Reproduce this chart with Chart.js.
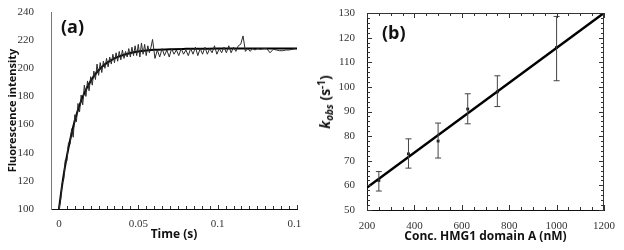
<!DOCTYPE html>
<html><head><meta charset="utf-8">
<script src="https://cdn.jsdelivr.net/npm/chart.js@4"></script>
<style>
html,body{margin:0;padding:0;background:#fff;width:624px;height:250px;overflow:hidden;}
#ca{position:absolute;left:0;top:0;}
#cb{position:absolute;left:312px;top:0;}
.lbl{position:absolute;font-family:'Open Sans',sans-serif;font-weight:bold;color:#111;white-space:nowrap;}
#ytb{left:325px;top:102px;transform:translate(-50%,-50%) rotate(-90deg);font-size:14px;line-height:16px;}
#ytb sub{font-size:10px;vertical-align:-3px;font-style:italic;}
#ytb sup{font-size:10px;vertical-align:5px;}
</style></head><body>
<canvas id="ca" width="302" height="250"></canvas>
<canvas id="cb" width="312" height="250"></canvas>
<div class="lbl" style="left:61px;top:17px;font-size:18px;line-height:18px;">(a)</div>
<div class="lbl" style="left:382px;top:23px;font-size:18px;line-height:18px;">(b)</div>
<div class="lbl" id="ytb"><i>k</i><sub>obs</sub> (s<sup>-1</sup>)</div>
<script>
// ---------- Panel (a): fluorescence trace ----------
const timeA = [0,0.001,0.002,0.003,0.004,0.005,0.006,0.007,0.008,0.009,
  0.010,0.011,0.012,0.013,0.014,0.015,0.016,0.017,0.018,0.019,
  0.020,0.021,0.022,0.023,0.024,0.025,0.026,0.027,0.028,0.029,
  0.030,0.031,0.032,0.033,0.034,0.035,0.036,0.037,0.038,0.039,
  0.040,0.041,0.042,0.043,0.044,0.045,0.046,0.047,0.048,0.049,
  0.050,0.051,0.052,0.053,0.054,0.055,0.056,0.057,0.058,0.059,
  0.0605,0.062,0.0635,0.065,0.0665,0.068,0.0695,0.071,0.0725,0.074,
  0.0755,0.077,0.0785,0.080,0.0815,0.083,0.0845,0.086,0.0875,0.089,
  0.0905,0.092,0.0935,0.095,0.0965,0.098,0.0995,0.101,0.1025,0.104,
  0.1055,0.107,0.1085,0.110,0.1115,0.113,0.1145,0.116,0.1175,0.119,
  0.1205,0.122,0.1235,0.125,0.127,0.129,0.131,0.133,0.135,0.137,
  0.139,0.141,0.143,0.145,0.147,0.149];
const fluorA = [101,106,118,121,135,134,147,146,157,151,
  167,162,175,169,181,174,188,180,191,184,
  194,188,198,192,203,195,204,197,205,200,
  207,201,208,203,210,204,211,205,212,206,
  213,207,212,208,214,208,215,209,216,209,
  217,208,218,210,217,209,216,211,215,220.5,
  207,213,208,214,209,213,208,214,210,213,
  209,214,210,213,209,214,210,215,209,214,
  210,215,210,214,211,216,210,214,211,215,
  211,216,211,215,212,216,217,223,212,214,
  212,214,213,214,213.5,214,214,211,213.5,213,
  212.5,212.5,213,213,213.5,214];
const fitTimeA = [0,0.0025,0.005,0.0075,0.01,0.0125,0.015,0.0175,0.02,0.0225,
  0.025,0.0275,0.03,0.0325,0.035,0.0375,0.04,0.045,0.05,0.055,
  0.06,0.07,0.08,0.09,0.1,0.125,0.15];
const fitFluorA = [100,120.7,137.6,151.4,162.8,172.1,179.7,185.9,191.0,195.2,
  198.6,201.4,203.7,205.5,207.1,208.3,209.3,210.9,211.9,212.6,
  213.1,213.6,213.8,213.9,214,214,214];
const xTicksA = [0,0.05,0.1,0.15];
const xTickLabelsA = ['0','0.05','0.1','0.15'];
const yTicksA = [100,120,140,160,180,200,220,240];

// ---------- Panel (b): kobs vs concentration ----------
const concB = [250,375,500,625,750,1000];
const kobsB = [62,72.8,78,91,98,116];
const errLowB = [57.7,67,71.1,85,92,102.5];
const errHighB = [65.6,78.9,85.3,97.2,104.5,128.6];
const fitConcB = [200,1200];
const fitKobsB = [59.1,130];
const xTicksB = [200,400,600,800,1000,1200];
const yTicksB = [50,60,70,80,90,100,110,120,130];

const tickFont = {family:"'Liberation Serif','DejaVu Serif','Times New Roman',serif", size:11};
const titleFont = (s)=>({family:"'Open Sans',sans-serif", size:s, weight:'bold'});

// inner tick marks drawn through the scales
const innerTicks = {
  id:'innerTicks',
  afterDatasetsDraw(chart, args, o){
    const {ctx, chartArea:{left,right,top,bottom}, scales:{x,y}} = chart;
    ctx.save();
    ctx.strokeStyle = o.color; ctx.lineWidth = 1;
    ctx.beginPath();
    const eps = 1e-9;
    (o.xSpecs||[]).forEach(sp=>{
      for(let v=sp.from; v<=sp.to+eps; v+=sp.step){
        const px = Math.round(x.getPixelForValue(v))+0.5;
        if(sp.bottom){ctx.moveTo(px,bottom);ctx.lineTo(px,bottom-sp.len);}
        if(sp.top){ctx.moveTo(px,top);ctx.lineTo(px,top+sp.len);}
      }
    });
    (o.ySpecs||[]).forEach(sp=>{
      for(let v=sp.from; v<=sp.to+eps; v+=sp.step){
        const py = Math.round(y.getPixelForValue(v))+0.5;
        if(sp.left){ctx.moveTo(left,py);ctx.lineTo(left+sp.len,py);}
        if(sp.right){ctx.moveTo(right,py);ctx.lineTo(right-sp.len,py);}
      }
    });
    if(o.box){
      ctx.moveTo(left,top+0.5);ctx.lineTo(right,top+0.5);
      ctx.moveTo(right-0.5,top);ctx.lineTo(right-0.5,bottom);
    }
    ctx.stroke();
    ctx.restore();
  }
};

new Chart(document.getElementById('ca'), {
  type:'scatter',
  data:{datasets:[
    {data: timeA.map((t,i)=>({x:t,y:fluorA[i]})), showLine:true, borderColor:'#2a2a2a', borderWidth:1, pointRadius:0, tension:0},
    {data: fitTimeA.map((t,i)=>({x:t,y:fitFluorA[i]})), showLine:true, borderColor:'#000', borderWidth:2, pointRadius:0, cubicInterpolationMode:'monotone'}
  ]},
  options:{
    responsive:false, animation:false, devicePixelRatio:1,
    layout:{padding:{top:12,right:5,left:0,bottom:0}},
    plugins:{legend:{display:false}, tooltip:{enabled:false},
      innerTicks:{color:'#333', xSpecs:[{from:0,to:0.15,step:0.005,len:3,bottom:true},{from:0,to:0.15,step:0.05,len:4,bottom:true}]}},
    scales:{
      x:{type:'linear', min:-0.005, max:0.15,
        afterBuildTicks:s=>{s.ticks = xTicksA.map(v=>({value:v}));},
        afterFit:s=>{s.height=41; s.paddingLeft=0; s.paddingRight=0;},
        ticks:{callback:(v,i)=>xTickLabelsA[i], padding:1, font:tickFont, color:'#333', maxRotation:0, autoSkip:false},
        grid:{display:false},
        border:{display:true, color:'#111', width:1},
        title:{display:true, text:'Time (s)', font:titleFont(12), color:'#111', padding:{top:0,bottom:8}}
      },
      y:{type:'linear', min:100, max:240,
        afterBuildTicks:s=>{s.ticks = yTicksA.map(v=>({value:v}));},
        afterFit:s=>{s.width=51; s.paddingTop=0; s.paddingBottom=0;},
        ticks:{callback:v=>String(v), padding:9, font:tickFont, color:'#333', autoSkip:false},
        grid:{display:false},
        border:{display:true, color:'#777', width:1},
        title:{display:true, text:'Fluorescence intensity', font:titleFont(11), color:'#111', padding:{top:6,bottom:0}}
      }
    }
  },
  plugins:[innerTicks]
});

const errSets = concB.map((c,i)=>({
  data:[{x:c,y:errLowB[i]},{x:c,y:errHighB[i]}], showLine:true,
  borderColor:'#444', borderWidth:1, pointStyle:'line', pointRadius:3,
  pointBorderColor:'#444', pointBorderWidth:1
}));

new Chart(document.getElementById('cb'), {
  type:'scatter',
  data:{datasets:[
    ...errSets,
    {data: fitConcB.map((c,i)=>({x:c,y:fitKobsB[i]})), showLine:true, borderColor:'#000', borderWidth:2.5, pointRadius:0},
    {data: concB.map((c,i)=>({x:c,y:kobsB[i]})), showLine:false, pointStyle:'rect', pointRadius:2, backgroundColor:'#111', borderColor:'#111', borderWidth:0}
  ]},
  options:{
    responsive:false, animation:false, devicePixelRatio:1,
    layout:{padding:{top:13,right:20,left:0,bottom:0}},
    plugins:{legend:{display:false}, tooltip:{enabled:false},
      innerTicks:{color:'#333', box:true,
        xSpecs:[{from:200,to:1200,step:50,len:3,bottom:true,top:true},{from:200,to:1200,step:200,len:5,bottom:true,top:true}],
        ySpecs:[{from:50,to:130,step:2,len:3,left:true,right:true},{from:50,to:130,step:10,len:5,left:true,right:true}]}},
    scales:{
      x:{type:'linear', min:200, max:1200,
        afterBuildTicks:s=>{s.ticks = xTicksB.map(v=>({value:v}));},
        afterFit:s=>{s.height=40; s.paddingLeft=0; s.paddingRight=0;},
        ticks:{callback:v=>String(v), padding:2, font:tickFont, color:'#333', maxRotation:0, autoSkip:false},
        grid:{display:false},
        border:{display:true, color:'#111', width:1},
        title:{display:true, text:'Conc. HMG1 domain A (nM)', font:titleFont(12), color:'#111', padding:{top:0,bottom:6}}
      },
      y:{type:'linear', min:50, max:130,
        afterBuildTicks:s=>{s.ticks = yTicksB.map(v=>({value:v}));},
        afterFit:s=>{s.width=55; s.paddingTop=0; s.paddingBottom=0;},
        ticks:{callback:v=>String(v), padding:4, font:tickFont, color:'#333', autoSkip:false},
        grid:{display:false},
        border:{display:true, color:'#111', width:1},
        title:{display:false}
      }
    }
  },
  plugins:[innerTicks]
});
</script>
</body></html>
